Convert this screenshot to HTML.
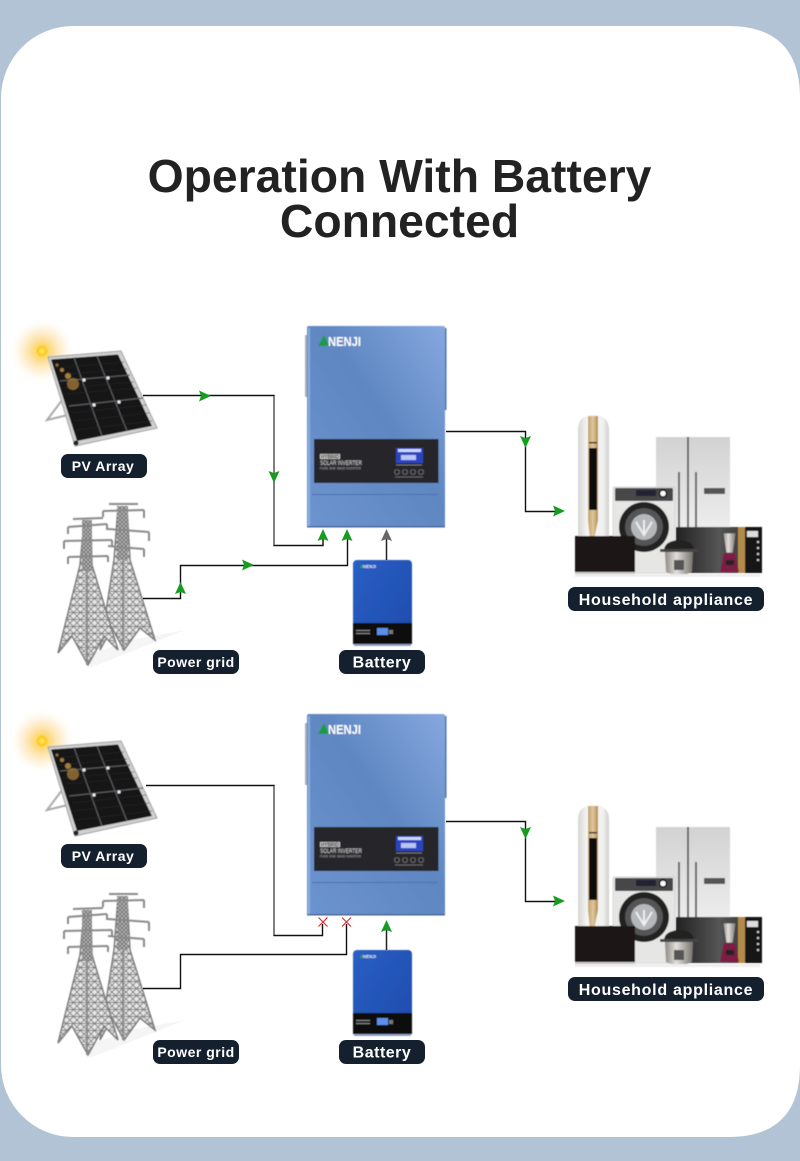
<!DOCTYPE html>
<html><head><meta charset="utf-8">
<style>
html,body{margin:0;padding:0;background:#b1c3d5;}
svg{display:block;font-family:"Liberation Sans",sans-serif;}
.t{font-weight:bold;font-size:46.3px;fill:#222;text-anchor:middle;}
.l{font-weight:bold;fill:#fff;text-anchor:middle;letter-spacing:.5px;}
.h{letter-spacing:.72px;}
.w{fill:none;stroke:#111;stroke-width:1.4;}
</style></head><body>
<svg width="800" height="1161" viewBox="0 0 800 1161" xmlns="http://www.w3.org/2000/svg">
<defs>
<filter id="b" x="-5%" y="-5%" width="110%" height="110%"><feGaussianBlur stdDeviation=".4"/></filter>
<filter id="b2" x="-10%" y="-10%" width="120%" height="120%"><feGaussianBlur stdDeviation=".5"/></filter>
<radialGradient id="glow"><stop offset="0" stop-color="#ffd21f" stop-opacity=".95"/><stop offset=".3" stop-color="#fbc64a" stop-opacity=".6"/><stop offset=".65" stop-color="#fbd68c" stop-opacity=".3"/><stop offset="1" stop-color="#fff" stop-opacity="0"/></radialGradient>
<radialGradient id="core"><stop offset="0" stop-color="#fff38a"/><stop offset=".6" stop-color="#ffc91a"/><stop offset="1" stop-color="#ffc91a" stop-opacity="0"/></radialGradient>
<linearGradient id="inv" x1="0" y1="1" x2="1" y2="0"><stop offset="0" stop-color="#6d94cf"/><stop offset=".55" stop-color="#5f87c2"/><stop offset="1" stop-color="#85a8de"/></linearGradient>
<linearGradient id="bat" x1="0" y1="0" x2="1" y2="1"><stop offset="0" stop-color="#2a5fc4"/><stop offset="1" stop-color="#1d4bab"/></linearGradient>
<linearGradient id="fr" x1="0" y1="0" x2="0" y2="1"><stop offset="0" stop-color="#d2d2d2"/><stop offset="1" stop-color="#ececec"/></linearGradient>
<linearGradient id="ac" x1="0" y1="0" x2="1" y2="0"><stop offset="0" stop-color="#d6d6d4"/><stop offset=".3" stop-color="#f6f6f4"/><stop offset=".8" stop-color="#f2f2f0"/><stop offset="1" stop-color="#cfcfcd"/></linearGradient>
<linearGradient id="gold" x1="0" y1="0" x2="1" y2="0"><stop offset="0" stop-color="#c2a26d"/><stop offset=".5" stop-color="#e0c79a"/><stop offset="1" stop-color="#b08e58"/></linearGradient>
<linearGradient id="mw" x1="0" y1="0" x2="1" y2="0"><stop offset="0" stop-color="#222"/><stop offset=".5" stop-color="#555"/><stop offset="1" stop-color="#2a2a2a"/></linearGradient>
<linearGradient id="steel" x1="0" y1="0" x2="1" y2="0"><stop offset="0" stop-color="#8c8782"/><stop offset=".4" stop-color="#e2dfdb"/><stop offset="1" stop-color="#77726d"/></linearGradient>
<pattern id="lat" width="7" height="7" patternUnits="userSpaceOnUse"><rect width="7" height="7" fill="#e6e6e6"/><path d="M0,0 L7,7 M7,0 L0,7 M0,3.500 H7" stroke="#7c7c7c" stroke-width=".9"/></pattern>
<pattern id="lat2" width="4" height="4" patternUnits="userSpaceOnUse"><rect width="4" height="4" fill="#bcbcbc"/><path d="M0,0 L4,4 M4,0 L0,4" stroke="#6a6a6a" stroke-width=".9"/></pattern>

<g id="solar">
<circle cx="42" cy="351" r="33" fill="url(#glow)"/>
<g filter="url(#b)">
<polygon points="66,395 47,420 72,414" fill="none" stroke="#aaa" stroke-width="2"/>
<polygon points="48,357 121,351 157,428 75,446" fill="#cfd0d0" stroke="#a0a0a0" stroke-width="1"/>
<polygon points="51,359.500 118,354.500 152,426 77,441" fill="#151515"/>
<g stroke="#5a5b5f" stroke-width="1.200" fill="none">
<path d="M74,357.500 L102,436"/><path d="M97,356 L127,431"/>
<path d="M60,381 L130,375"/><path d="M69,406 L143,398"/>
</g>
<g stroke="#29292b" stroke-width=".6">
<path d="M54,368 L124,362"/><path d="M58,375 L127,369"/><path d="M63,388 L134,382"/><path d="M66,394 L137,388"/><path d="M72,413 L146,405"/><path d="M74,421 L149,413"/><path d="M76,430 L152,421"/>
</g>
<circle cx="84" cy="380" r="1.600" fill="#eee"/><circle cx="108" cy="378" r="1.600" fill="#eee"/><circle cx="94" cy="405" r="1.600" fill="#eee"/><circle cx="119" cy="402" r="1.600" fill="#eee"/>
<circle cx="73" cy="384" r="6" fill="#a57c3a" opacity=".75"/><circle cx="68" cy="376" r="3" fill="#c59545" opacity=".8"/><circle cx="62" cy="370" r="2" fill="#c59545" opacity=".8"/><circle cx="57" cy="365" r="1.500" fill="#c59545" opacity=".7"/>
<circle cx="76" cy="443" r="2.500" fill="#222"/>
</g>
<circle cx="42" cy="351" r="6.500" fill="url(#core)"/>
</g>

<g id="tower1">
<polygon points="84,522 91,522 92,565 118,650 104,636 88,665 72,636 58,653 80,565" fill="url(#lat)" stroke="#7d7d7d" stroke-width="1.500"/>
<rect x="82" y="520" width="10" height="50" fill="url(#lat2)"/>
<path d="M87,570 V665" stroke="#8a8a8a" stroke-width="2"/>
<g fill="none" stroke="#8a8a8a" stroke-width="2">
<path d="M73,519 L103,518"/><path d="M68,527 L107,524 M68,527 v7 M107,524 v6"/><path d="M64,541 L112,540 M64,541 v8 M112,540 v6"/><path d="M68,557 L108,556 M68,557 v7 M108,556 v6"/>
</g>
</g>
<g id="tower2">
<polygon points="118,507 127,507 130,560 155,640 140,628 124,650 112,628 100,650 114,560" fill="url(#lat)" stroke="#7d7d7d" stroke-width="1.500"/>
<rect x="117" y="506" width="11" height="54" fill="url(#lat2)"/>
<path d="M123,560 V650" stroke="#8a8a8a" stroke-width="2"/>
<g fill="none" stroke="#8a8a8a" stroke-width="2">
<path d="M109,504 L138,504"/><path d="M103,511 L144,510 M103,511 v6 M144,510 v8"/><path d="M108,529 L149,532 M149,532 v9"/><path d="M108,546 L144,549 M144,549 v8"/>
</g>
</g>
<g id="towers"><path d="M90,668 L185,630 L130,640 L88,655Z" fill="#eee" opacity=".6"/><g filter="url(#b2)"><use href="#tower2"/><use href="#tower1"/></g></g>

<g id="inverter" filter="url(#b)">
<rect x="305" y="335" width="3" height="62" fill="#a4aebb"/>
<rect x="443" y="328" width="3.500" height="82" fill="#4b74b2"/>
<rect x="307" y="326" width="138" height="201" rx="2" fill="url(#inv)"/>
<rect x="307" y="526" width="138" height="1.500" fill="#49689a"/>
<rect x="308" y="328" width="2" height="198" fill="#9bbbe8" opacity=".7"/>
<rect x="314" y="439" width="124.500" height="44" fill="#26282c"/>
<rect x="312" y="494" width="126" height="1" fill="#4a72ac"/>
<polygon points="318,346 324,335 329,346" fill="#1f9a46"/>
<text x="328" y="346" font-size="13" font-weight="bold" fill="#fff" textLength="33" lengthAdjust="spacingAndGlyphs">NENJI</text>
<rect x="320" y="454" width="20" height="5" fill="#ccc"/>
<text x="321" y="458.500" font-size="5" font-weight="bold" fill="#222" textLength="18" lengthAdjust="spacingAndGlyphs">HYBRID</text>
<text x="320" y="465" font-size="6.200" fill="#d6d6d6" textLength="42" lengthAdjust="spacingAndGlyphs">SOLAR INVERTER</text>
<text x="320" y="469.500" font-size="3.500" fill="#aaa" textLength="41" lengthAdjust="spacingAndGlyphs">PURE SINE WAVE INVERTER</text>
<rect x="396" y="448" width="27" height="15" fill="#2b45c4"/>
<rect x="398" y="449" width="23" height="3" fill="#cfd8ff"/><rect x="401" y="455" width="15" height="5" fill="#dfe5ff" opacity=".8"/>
<g fill="none" stroke="#888" stroke-width=".6"><circle cx="397" cy="472" r="2.500"/><circle cx="405" cy="472" r="2.500"/><circle cx="413" cy="472" r="2.500"/><circle cx="421" cy="472" r="2.500"/></g>
<rect x="396" y="464.500" width="26" height="1" fill="#777"/>
<rect x="395" y="476.500" width="28" height="1" fill="#666"/>
</g>

<g id="battery" filter="url(#b)">
<rect x="353" y="560" width="59" height="86" rx="4" fill="url(#bat)"/>
<rect x="353" y="623" width="59" height="21" fill="#111"/>
<rect x="354" y="644" width="57" height="2" fill="#8fa0c8"/>
<polygon points="360,568 362,564 364,568" fill="#2aa24a"/>
<text x="363" y="568" font-size="4.500" font-weight="bold" fill="#dfe6f5" textLength="13" lengthAdjust="spacingAndGlyphs">NENJI</text>
<rect x="377" y="628" width="11" height="7" fill="#5a90e8"/>
<rect x="356" y="630" width="14" height="1" fill="#888"/><rect x="356" y="633" width="14" height="1" fill="#888"/>
<rect x="389" y="630" width="4" height="4" fill="#777"/>
</g>

<g id="appl" filter="url(#b)">
<path d="M578,430 Q578,415 593.500,415 Q609,415 609,430 L609,540 L578,540Z" fill="url(#ac)"/>
<path d="M588,416 L598,416 L598,520 L594,540 L590,540 L588,520Z" fill="url(#gold)"/>
<rect x="589" y="442" width="8" height="1.500" fill="#222"/>
<rect x="589" y="448" width="8" height="62" fill="#111"/>
<rect x="656" y="437" width="74" height="90" fill="url(#fr)"/>
<rect x="687" y="437" width="2" height="90" fill="#666"/>
<rect x="678" y="472" width="2" height="55" fill="#666"/>
<rect x="695" y="472" width="2" height="55" fill="#666"/>
<rect x="704" y="488" width="21" height="6" fill="#555"/>
<rect x="613" y="487" width="62" height="86" rx="1" fill="#e6e6e4" stroke="#bbb" stroke-width=".5"/>
<rect x="615" y="488" width="58" height="13" rx="1" fill="#47474a"/>
<rect x="636" y="490" width="20" height="6" fill="#223"/>
<circle cx="663" cy="493.500" r="3.500" fill="#fff" stroke="#111" stroke-width="1.500"/>
<circle cx="644" cy="527" r="25" fill="#222"/>
<circle cx="644" cy="527" r="19" fill="#555"/>
<circle cx="644" cy="527" r="13" fill="#b5b8bb"/>
<path d="M636,522 L644,535 L652,522 M644,520 V535" stroke="#eee" stroke-width="2" fill="none"/>
<rect x="575" y="536" width="60" height="36" fill="#1b1917"/>
<rect x="575" y="572" width="60" height="2" fill="#c9c9c9"/>
<rect x="676" y="527" width="86" height="46" fill="url(#mw)"/>
<rect x="738" y="527" width="10" height="46" fill="#b38a4a"/>
<rect x="745" y="527" width="17" height="46" fill="#181818"/>
<rect x="747" y="531" width="11" height="6" fill="#ddd"/>
<g fill="#ccc"><rect x="757" y="541" width="2" height="2"/><rect x="757" y="547" width="2" height="2"/><rect x="757" y="553" width="2" height="2"/><rect x="757" y="559" width="2" height="2"/></g>
<path d="M664,551 Q664,541 679,540 Q694,541 694,551Z" fill="#222"/>
<rect x="660" y="549" width="38" height="3" rx="1" fill="#444"/>
<path d="M665,552 H693 L692,572 Q679,578 666,572Z" fill="url(#steel)"/>
<rect x="674" y="560" width="10" height="10" fill="#555"/>
<path d="M723,533 H736 L733,553 H726Z" fill="url(#steel)" stroke="#444" stroke-width=".8"/>
<path d="M720,572 L724,553 H735 L739,572Z" fill="#7d1a45"/>
<rect x="726" y="560" width="8" height="5" fill="#222"/>
<rect x="575" y="574" width="185" height="3" fill="#eee"/>
</g>

<g id="arrR"><polygon points="0,-5.500 12,0 0,5.500 2,0" fill="#169c1f"/></g>
<g id="arrD"><polygon points="-5.500,0 0,12 5.500,0 0,2" fill="#169c1f"/></g>
<g id="arrU"><polygon points="-5.500,0 0,-12 5.500,0 0,-2" fill="#169c1f"/></g>
<g id="x"><path d="M-4.500,-4.500 L4.500,4.500 M-4.500,4.500 L4.500,-4.500" stroke="#e2222a" stroke-width="1.100"/></g>
</defs>

<rect width="800" height="1161" fill="#b1c3d5"/>
<rect x="1" y="26" width="809" height="1111" rx="72" fill="#fff"/>
<path d="M728,26 Q800,26 800,98 L800,1065 Q800,1137 728,1137 L800,1137 L800,26Z" fill="#b1c3d5"/>

<text class="t" x="399.500" y="192">Operation With Battery</text>
<text class="t" x="399.500" y="237">Connected</text>

<!-- top -->
<use href="#solar"/>
<use href="#towers"/>
<use href="#inverter"/>
<use href="#battery"/>
<use href="#appl"/>

<path class="w" d="M143,395.500 H274 V545.500 H323 V533"/>
<path d="M274,396 V545" stroke="#777" stroke-width="1.500" fill="none"/>
<path class="w" d="M143,598.500 H180.500 V565.500 H347.500 V533"/>
<path d="M386.500,560 V535" stroke="#222" stroke-width="1.500"/>
<polygon points="381,541 386.500,529 392,541 386.500,539" fill="#666"/>
<path class="w" d="M446,431.500 H525.500 V511.500 H560"/>
<use href="#arrR" x="199" y="396"/>
<use href="#arrD" x="274" y="471"/>
<use href="#arrU" x="180.500" y="594"/>
<use href="#arrR" x="242" y="565"/>
<use href="#arrU" x="323" y="541"/>
<use href="#arrU" x="347" y="541"/>
<use href="#arrD" x="525.500" y="436"/>
<use href="#arrR" x="553" y="511"/>

<rect x="61" y="454" width="86" height="24" rx="7" fill="#14202e"/>
<text class="l" x="103" y="471" font-size="14">PV Array</text>
<rect x="153" y="650" width="86" height="24" rx="7" fill="#14202e"/>
<text class="l" x="196" y="667" font-size="14">Power grid</text>
<rect x="339" y="650" width="86" height="24" rx="7" fill="#14202e"/>
<text class="l" x="382" y="667.500" font-size="16">Battery</text>
<rect x="568" y="587" width="196" height="24" rx="7" fill="#14202e"/>
<text class="l h" x="666" y="605" font-size="16">Household appliance</text>

<!-- bottom -->
<use href="#solar" y="390"/>
<use href="#towers" y="390"/>
<use href="#inverter" y="388"/>
<use href="#battery" y="390"/>
<use href="#appl" y="390"/>

<path class="w" d="M146,785.500 H274 V935.500 H322.500 V924"/>
<path d="M274,786 V935" stroke="#777" stroke-width="1.500" fill="none"/>
<path class="w" d="M143,988.500 H180.500 V954.500 H346.500 V924"/>
<path d="M386.500,950 V930" stroke="#222" stroke-width="1.500"/>
<use href="#arrU" x="386.500" y="932"/>
<path class="w" d="M446,821.500 H525.500 V901.500 H560"/>
<use href="#x" x="323" y="922"/>
<use href="#x" x="346.500" y="922"/>
<use href="#arrD" x="525.500" y="827"/>
<use href="#arrR" x="553" y="901"/>

<rect x="61" y="844" width="86" height="24" rx="7" fill="#14202e"/>
<text class="l" x="103" y="861" font-size="14">PV Array</text>
<rect x="153" y="1040" width="86" height="24" rx="7" fill="#14202e"/>
<text class="l" x="196" y="1057" font-size="14">Power grid</text>
<rect x="339" y="1040" width="86" height="24" rx="7" fill="#14202e"/>
<text class="l" x="382" y="1057.500" font-size="16">Battery</text>
<rect x="568" y="977" width="196" height="24" rx="7" fill="#14202e"/>
<text class="l h" x="666" y="995" font-size="16">Household appliance</text>
</svg>
</body></html>
